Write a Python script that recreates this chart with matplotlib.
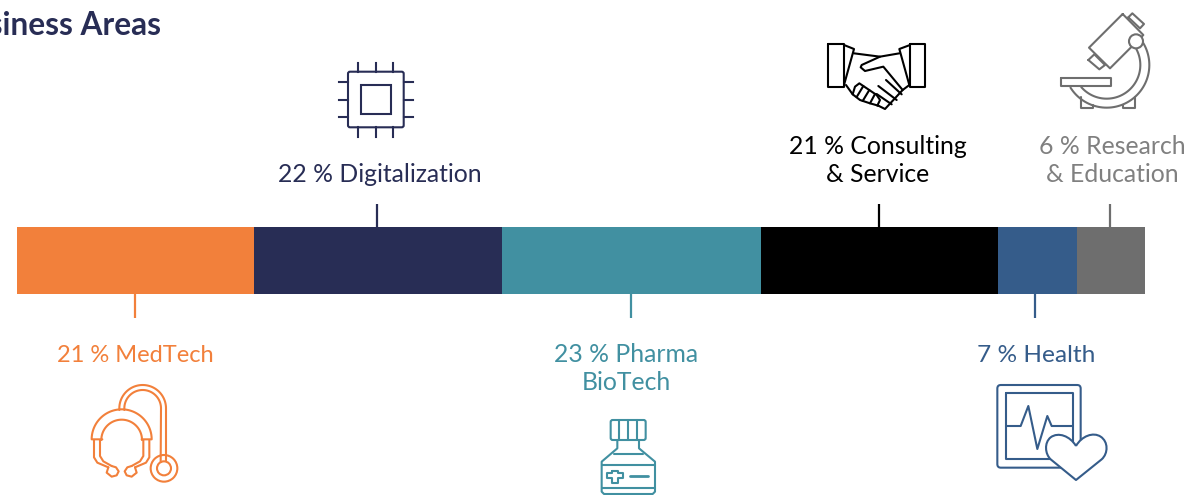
import numpy as np
import matplotlib
matplotlib.use("Agg")
import matplotlib.pyplot as plt
from matplotlib.patches import Circle, FancyBboxPatch, PathPatch, Rectangle
from matplotlib.path import Path

plt.rcParams["font.family"] = ["Lato", "DejaVu Sans"]

W, H = 1188, 495

# share of business per area, in percent
areas = ["MedTech", "Digitalization", "Pharma BioTech", "Consulting & Service", "Health", "Research & Education"]
shares = [21, 22, 23, 21, 7, 6]
colors = ["#F2803B", "#282D55", "#4190A1", "#000000", "#355C8A", "#6E6E6E"]
text_colors = ["#F2803B", "#282D55", "#4190A1", "#000000", "#355C8A", "#808080"]
label_lines = [
    ["21 % MedTech"],
    ["22 % Digitalization"],
    ["23 % Pharma", "BioTech"],
    ["21 % Consulting", "& Service"],
    ["7 % Health"],
    ["6 % Research", "& Education"],
]

fig = plt.figure(figsize=(W / 100, H / 100), dpi=100)

# full-figure axes in pixel units for the icons and texts
ax = fig.add_axes([0, 0, 1, 1])
ax.set_xlim(0, W)
ax.set_ylim(H, 0)
ax.axis("off")

# the stacked bar gets its own axes, 0-100 %
BAR_X0, BAR_X1, BAR_TOP, BAR_BOT = 17, 1144.5, 227, 294
ax_bar = fig.add_axes([BAR_X0 / W, 1 - BAR_BOT / H, (BAR_X1 - BAR_X0) / W, (BAR_BOT - BAR_TOP) / H])
ax_bar.set_xlim(0, sum(shares))
ax_bar.set_ylim(0, 1)
ax_bar.axis("off")
lefts = np.cumsum([0] + shares[:-1])
ax_bar.barh(0.5, shares, left=lefts, height=1, color=colors, linewidth=0)

LW = 1.5


def pct_to_px(p):
    return BAR_X0 + p * (BAR_X1 - BAR_X0) / sum(shares)


def z(pts, x0, y0):
    """Zoomed-crop coordinates (3x) to figure pixels."""
    pts = np.asarray(pts, dtype=float)
    return pts[:, 0] / 3 + x0, pts[:, 1] / 3 + y0


def poly(pts, x0, y0, color, lw=LW, closed=False, zorder=3):
    xs, ys = z(pts, x0, y0)
    if closed:
        xs = np.append(xs, xs[0])
        ys = np.append(ys, ys[0])
    ax.plot(xs, ys, color=color, lw=lw, solid_joinstyle="round", solid_capstyle="round", zorder=zorder)


def arc(cx, cy, r, a0, a1, n=60):
    t = np.radians(np.linspace(a0, a1, n))
    return np.column_stack([cx + r * np.cos(t), cy - r * np.sin(t)])


def rrect(x0, y0, x1, y1, color, lw=LW, pad=2.0, fill="none", zorder=3):
    ax.add_patch(FancyBboxPatch((x0 + pad, y0 + pad), x1 - x0 - 2 * pad, y1 - y0 - 2 * pad,
                                boxstyle=f"round,pad={pad},rounding_size={pad}",
                                fc=fill, ec=color, lw=lw, zorder=zorder))


def draw_chip(c):
    rrect(348, 71.7, 403.7, 127.3, c)
    ax.add_patch(Rectangle((360.7, 84.7), 30, 29.6, fc="none", ec=c, lw=LW))
    for x in (358.3, 376, 393):
        ax.plot([x, x], [62.7, 71.7], color=c, lw=LW)
        ax.plot([x, x], [127.3, 136.5], color=c, lw=LW)
    for y in (82, 99.5, 117):
        ax.plot([338.7, 348], [y, y], color=c, lw=LW)
        ax.plot([403.7, 413], [y, y], color=c, lw=LW)


def draw_handshake(c):
    x0, y0 = 820, 35
    poly([(25, 28), (72, 28), (72, 155), (25, 155)], x0, y0, c, closed=True)
    poly([(270, 28), (315, 28), (315, 155), (270, 155)], x0, y0, c, closed=True)
    poly([(72, 30), (102, 42), (72, 150)], x0, y0, c)
    poly([(270, 30), (238, 42), (268, 150)], x0, y0, c)
    poly([(102, 55), (180, 65)], x0, y0, c)
    # right hand with thumb
    poly([(238, 55), (180, 65), (125, 90), (122, 97), (135, 108), (190, 95),
          (248, 165), (195, 222), (175, 212)], x0, y0, c)
    poly([(248, 165), (268, 150)], x0, y0, c)
    # left hand and finger stubs
    poly([(78, 150), (98, 178), (120, 195), (150, 205), (175, 212)], x0, y0, c)
    poly([(98, 178), (105, 155), (118, 145), (170, 180), (180, 195), (172, 212)], x0, y0, c)
    poly([(130, 153), (110, 186)], x0, y0, c)
    poly([(148, 165), (128, 198)], x0, y0, c)
    poly([(165, 177), (150, 205)], x0, y0, c)
    poly([(198, 135), (245, 178)], x0, y0, c)
    poly([(175, 153), (230, 195)], x0, y0, c)
    poly([(170, 177), (215, 208)], x0, y0, c)


def draw_microscope(c):
    x0, y0 = 760, 0
    poly([(1088, 42), (1150, 105), (1050, 205), (987, 143)], x0, y0, c, closed=True)
    poly([(1105, 52), (1117, 40), (1152, 72), (1140, 85)], x0, y0, c, closed=True)
    poly([(985, 180), (1003, 163), (1035, 195), (1018, 208)], x0, y0, c, closed=True)
    poly(arc(1040, 195, 128, 33, -148), x0, y0, c)
    poly(arc(1040, 195, 101, 28, -139), x0, y0, c)
    poly([(903, 233), (1053, 233), (1053, 258), (903, 258)], x0, y0, c, closed=True)
    poly([(962, 292), (962, 325), (1000, 325), (1000, 314)], x0, y0, c)
    poly([(1088, 314), (1088, 325), (1125, 325), (1125, 292)], x0, y0, c)
    ax.add_patch(Circle((x0 + 1128 / 3, 124 / 3), 7, fc="white", ec=c, lw=LW, zorder=4))


def draw_stethoscope(c):
    x0, y0 = 40, 330
    poly(np.vstack([[(187, 328), (155, 328)], arc(245, 328, 90, 180, 0), [(335, 328), (305, 328)]]), x0, y0, c)
    poly(arc(245, 330, 61, 180, 0), x0, y0, c)
    for m in (False, True):
        left = [(162, 330), (162, 382), (172, 398), (205, 412)]
        right = [(180, 330), (180, 378), (190, 394), (215, 408)]
        tip = [(205, 412), (200, 428), (215, 440), (230, 436), (236, 424), (228, 412), (215, 408)]
        for pts in (left, right, tip):
            p = np.array(pts, dtype=float)
            if m:
                p[:, 0] = 490 - p[:, 0]
            poly(p, x0, y0, c)
    poly(np.vstack([[(238, 240)], arc(308, 235, 70, 180, 0), [(378, 392)]]), x0, y0, c)
    poly(np.vstack([[(253, 240)], arc(308, 235, 55, 180, 0), [(362, 395)]]), x0, y0, c)
    ax.add_patch(Circle((x0 + 372 / 3, y0 + 415 / 3), 40 / 3, fc="none", ec=c, lw=LW, zorder=3))
    ax.add_patch(Circle((x0 + 372 / 3, y0 + 415 / 3), 21 / 3, fc="none", ec=c, lw=LW, zorder=3))


def draw_bottle(c):
    x0, y0 = 540, 330
    rrect(x0 + 212 / 3, y0 + 270 / 3, x0 + 317 / 3, y0 + 330 / 3, c)
    for x in (238, 265, 292):
        poly([(x, 270), (x, 330)], x0, y0, c)
    poly([(232, 330), (232, 355), (185, 395), (185, 485), (192, 492), (338, 492), (345, 485),
          (345, 395), (297, 355), (297, 330)], x0, y0, c)
    poly([(222, 373), (308, 373)], x0, y0, c)
    poly([(185, 405), (345, 405)], x0, y0, c)
    poly([(185, 475), (345, 475)], x0, y0, c)
    poly([(216, 422), (234, 422), (234, 430), (248, 430), (248, 445), (234, 445), (234, 458),
          (216, 458), (216, 445), (202, 445), (202, 430), (216, 430)], x0, y0, c, closed=True)
    poly([(270, 437), (323, 437)], x0, y0, c, lw=2.0)


def draw_monitor(c):
    x0, y0 = 960, 330
    rrect(x0 + 112 / 3, y0 + 165 / 3, x0 + 362 / 3, y0 + 413 / 3, c, pad=3.5)
    poly([(138, 190), (338, 190), (338, 388), (138, 388)], x0, y0, c, closed=True)
    poly([(138, 288), (182, 288), (205, 228), (232, 357), (262, 258), (275, 288), (338, 288)], x0, y0, c)
    verts = [(348, 348),
             (330, 318), (295, 305), (272, 322),
             (252, 338), (255, 372), (272, 388),
             (348, 450),
             (425, 388),
             (445, 370), (445, 335), (422, 320),
             (400, 305), (365, 318), (348, 348)]
    codes = [Path.MOVETO, Path.CURVE4, Path.CURVE4, Path.CURVE4, Path.CURVE4, Path.CURVE4, Path.CURVE4,
             Path.LINETO, Path.LINETO, Path.CURVE4, Path.CURVE4, Path.CURVE4, Path.CURVE4, Path.CURVE4, Path.CURVE4]
    vx, vy = z(verts, x0, y0)
    ax.add_patch(PathPatch(Path(np.column_stack([vx, vy]), codes), fc="white", ec=c, lw=LW,
                           joinstyle="round", zorder=4))


# where the text block of each area sits: centre x, first baseline, above/below bar
label_x = [135, 379.5, 626.5, 878, 1036, 1112.5]
label_y = [361.5, 182.5, 361.5, 153.5, 361.5, 153.5]
label_size = [17.0, 17.8, 17.8, 17.8, 17.6, 17.8]
above = [False, True, False, True, False, True]
leader_nudge = [0, -1, 0, -1, -2, -1]
icons = [draw_stethoscope, draw_chip, draw_bottle, draw_handshake, draw_monitor, draw_microscope]

mids = lefts + np.array(shares) / 2
for i in range(len(areas)):
    xm = pct_to_px(mids[i]) + leader_nudge[i]
    if above[i]:
        ax.plot([xm, xm], [204, BAR_TOP], color=colors[i], lw=1.6, solid_capstyle="butt")
    else:
        ax.plot([xm, xm], [BAR_BOT, 318], color=colors[i], lw=1.6, solid_capstyle="butt")
    for j, line in enumerate(label_lines[i]):
        ax.text(label_x[i], label_y[i] + j * 29, line, color=text_colors[i], fontsize=label_size[i],
                ha="center", va="baseline")
    icons[i](text_colors[i] if i != 5 else colors[i])

ax.text(161.5, 35, "Business Areas", color="#282D55", fontsize=22.8, fontweight="bold", ha="right", va="baseline")

fig.savefig("out.png", dpi=100)
